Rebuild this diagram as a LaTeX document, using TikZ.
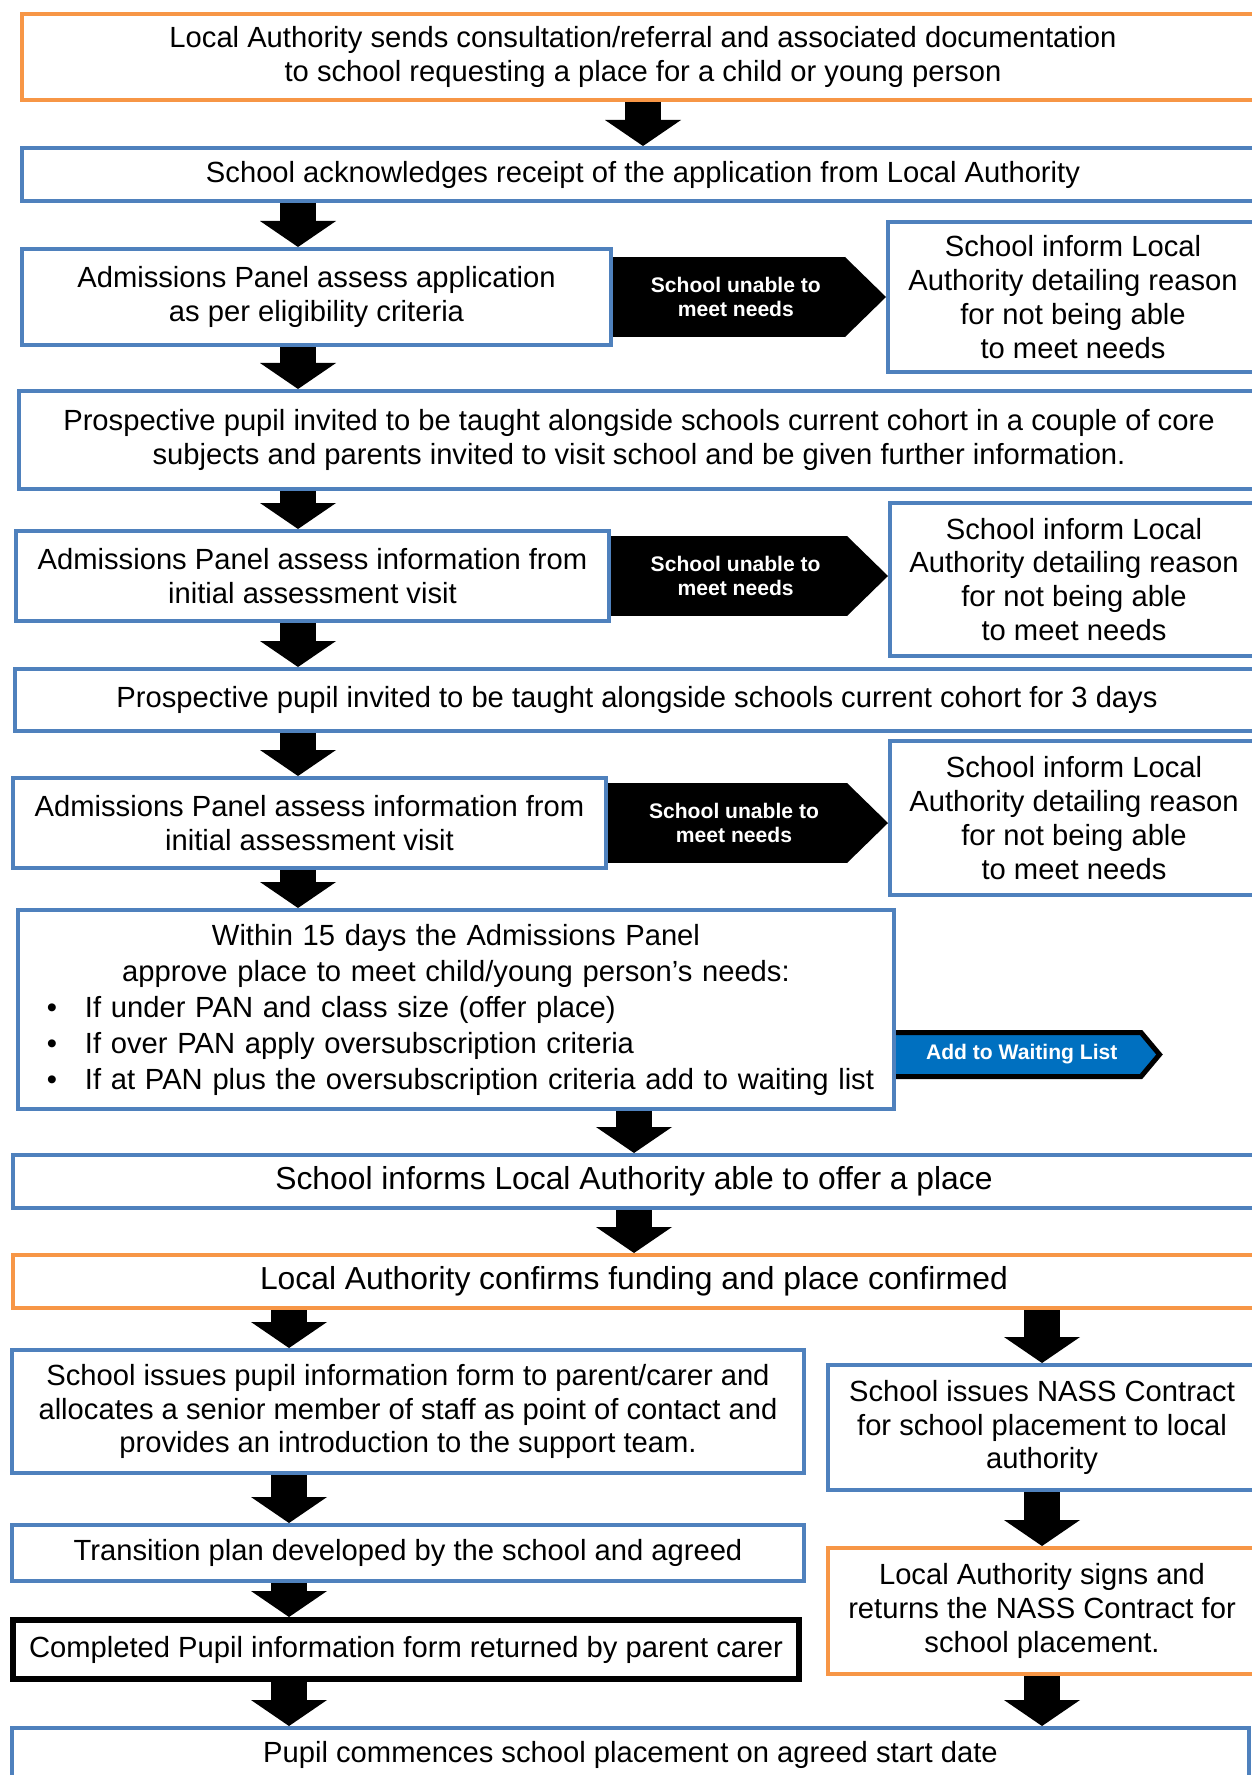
\documentclass[tikz,border=0pt]{standalone}
\usepackage{fontspec}
\setmainfont{Liberation Sans}
\usetikzlibrary{arrows.meta,shapes.symbols}

\definecolor{boxblue}{RGB}{79,129,189}
\definecolor{boxorange}{RGB}{247,150,70}
\definecolor{listblue}{RGB}{0,112,192}

\begin{document}
\begin{tikzpicture}[
    x=0.2mm, y=-0.2mm,
    box/.style={draw=boxblue, line width=0.8mm, fill=white, inner sep=0pt, align=center,
        font=\fontsize{16.6pt}{19.3pt}\selectfont},
    labox/.style={box, draw=boxorange},
    bigtext/.style={font=\fontsize{18.1pt}{21pt}\selectfont},
    down/.style={line width=7.2mm, -{Triangle[width=15.2mm, length=5.2mm, line width=0pt]}},
    unable/.style={line width=16mm, -{Triangle[width=16mm, length=8.2mm, line width=0pt]}},
    unabletext/.style={text=white, align=center, font=\fontsize{12pt}{13.7pt}\selectfont\bfseries}
]
\useasboundingbox (0,0) rectangle (1252,1775);

% column positions of the down arrows
\coordinate (colA) at (298,0);
\coordinate (colB) at (289,0);

% waiting list arrow (drawn first, box 11 covers its left end)
\node[signal, signal to=east, signal pointer angle=100, draw=black, line width=1mm, fill=listblue,
    anchor=west, minimum width=54.4mm, minimum height=8.8mm, inner sep=0pt,
    text=white, font=\fontsize{12pt}{13.7pt}\selectfont\bfseries] (waitlist) at (885,1054.5)
    {\hspace*{3mm}Add to Waiting List};

% Boxes
\node[labox, minimum width=248.4mm, minimum height=17.2mm] (b1) at (643,57)
    {Local Authority sends consultation/referral and associated documentation\\to school requesting a place for a child or young person};
\node[box, minimum width=248.4mm, minimum height=10.6mm] (b2) at (643,174.5)
    {School acknowledges receipt of the application from Local Authority};
\node[box, minimum width=117.8mm, minimum height=19.2mm] (b3) at (316.5,297)
    {Admissions Panel assess application\\as per eligibility criteria};
\node[box, minimum width=74mm, minimum height=30mm] (b4) at (1073,297)
    {School inform Local\\Authority detailing reason\\for not being able\\to meet needs};
\node[box, minimum width=248mm, minimum height=19.6mm] (b5) at (639,440)
    {Prospective pupil invited to be taught alongside schools current cohort in a couple of core\\subjects and parents invited to visit school and be given further information.};
\node[box, minimum width=118.6mm, minimum height=18mm] (b6) at (312.5,576)
    {Admissions Panel assess information from\\initial assessment visit};
\node[box, minimum width=73.6mm, minimum height=30.6mm] (b7) at (1074,579.5)
    {School inform Local\\Authority detailing reason\\for not being able\\to meet needs};
\node[box, minimum width=248.8mm, minimum height=12.4mm] (b8) at (637,700)
    {Prospective pupil invited to be taught alongside schools current cohort for 3 days};
\node[box, minimum width=118.6mm, minimum height=18mm] (b9) at (309.5,823)
    {Admissions Panel assess information from\\initial assessment visit};
\node[box, minimum width=73.6mm, minimum height=30.8mm] (b10) at (1074,818)
    {School inform Local\\Authority detailing reason\\for not being able\\to meet needs};
\node[box, minimum width=175.2mm, minimum height=39.8mm, text width=175.2mm, align=left,
    font=\fontsize{16.6pt}{20.5pt}\selectfont] (b11) at (456,1009.5)
    {{\centering Within 15 days the Admissions Panel\\approve place to meet child/young person’s needs:\par}
    \raggedright
    \hspace*{5.8mm}\makebox[7.6mm][l]{\textbullet}If under PAN and class size (offer place)\\
    \hspace*{5.8mm}\makebox[7.6mm][l]{\textbullet}If over PAN apply oversubscription criteria\\
    \hspace*{5.8mm}\makebox[7.6mm][l]{\textbullet}If at PAN plus the oversubscription criteria add to waiting list};
\node[box, bigtext, minimum width=248.4mm, minimum height=10.6mm] (b12) at (634,1181.5)
    {School informs Local Authority able to offer a place};
\node[labox, bigtext, minimum width=248.4mm, minimum height=10.6mm] (b13) at (634,1281.5)
    {Local Authority confirms funding and place confirmed};
\node[box, minimum width=158.4mm, minimum height=24.6mm] (b14) at (408,1411.5)
    {School issues pupil information form to parent/carer and\\allocates a senior member of staff as point of contact and\\provides an introduction to the support team.};
\node[box, minimum width=85.6mm, minimum height=25mm] (b15) at (1042,1427.5)
    {School issues NASS Contract\\for school placement to local\\authority};
\node[box, minimum width=158.4mm, minimum height=11.2mm] (b16) at (408,1553)
    {Transition plan developed by the school and agreed};
\node[box, draw=black, line width=1.2mm, minimum width=157.2mm, minimum height=11.8mm] (b17) at (406,1649.5)
    {Completed Pupil information form returned by parent carer};
\node[labox, minimum width=85.6mm, minimum height=25.2mm] (b18) at (1042,1611)
    {Local Authority signs and\\returns the NASS Contract for\\school placement.};
\node[box, minimum width=247.4mm, minimum height=10.8mm] (b19) at (630.5,1755)
    {Pupil commences school placement on agreed start date};

% School unable to meet needs
\draw[unable] (b3.east) -- (b3.east -| b4.west) node[pos=0.45, unabletext] {School unable to\\meet needs};
\draw[unable] (b6.east) -- (b6.east -| b7.west) node[pos=0.45, unabletext] {School unable to\\meet needs};
\draw[unable] (b9.east) -- (b9.east -| b10.west) node[pos=0.45, unabletext] {School unable to\\meet needs};

% Down arrows
\draw[down] (b1.south) -- (b2.north);
\draw[down] (b2.south -| colA) -- (b3.north -| colA);
\draw[down] (b3.south -| colA) -- (b5.north -| colA);
\draw[down] (b5.south -| colA) -- (b6.north -| colA);
\draw[down] (b6.south -| colA) -- (b8.north -| colA);
\draw[down] (b8.south -| colA) -- (b9.north -| colA);
\draw[down] (b9.south -| colA) -- (b11.north -| colA);
\draw[down] (b11.south -| b12.north) -- (b12.north);
\draw[down] (b12.south) -- (b13.north);
\draw[down] (b13.south -| colB) -- (b14.north -| colB);
\draw[down] (b13.south -| b15.north) -- (b15.north);
\draw[down] (b14.south -| colB) -- (b16.north -| colB);
\draw[down] (b16.south -| colB) -- (b17.north -| colB);
\draw[down] (b17.south -| colB) -- (b19.north -| colB);
\draw[down] (b15.south) -- (b18.north);
\draw[down] (b18.south) -- (b19.north -| b18.south);

\end{tikzpicture}
\end{document}
